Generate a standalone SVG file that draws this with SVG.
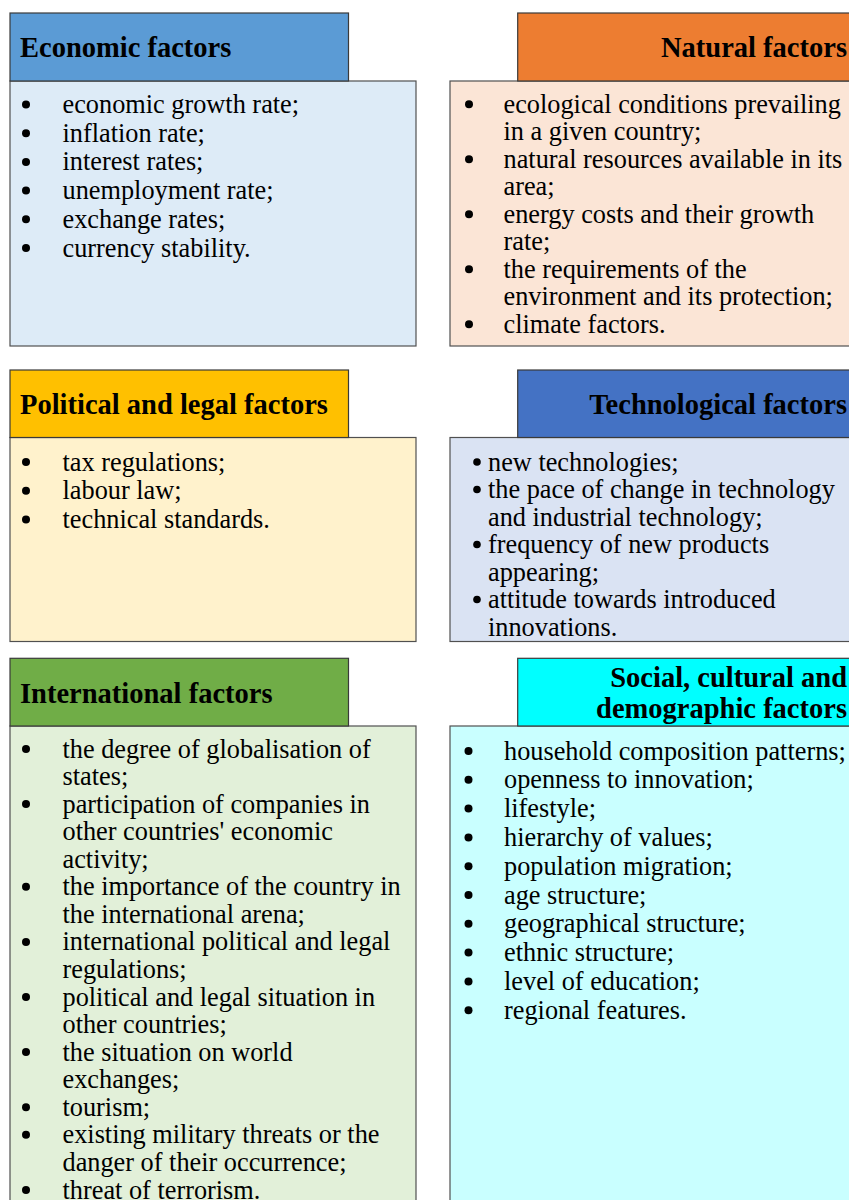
<svg xmlns="http://www.w3.org/2000/svg" width="849" height="1200" viewBox="0 0 849 1200">
<style>
.hd{stroke:#3a3a3a;stroke-width:1.2}
.bd{stroke:#505050;stroke-width:1.2}
.ht{font-family:"Liberation Serif","Times New Roman",serif;font-weight:bold;font-size:28.5px;fill:#000}
.bt{font-family:"Liberation Serif","Times New Roman",serif;font-size:26.3px;fill:#000}
.bu{fill:#000}
</style>
<rect width="849" height="1200" fill="#fff"/>

<g id="economic">
<rect class="bd" x="10" y="81" width="406" height="265" fill="#DDEBF7"/>
<rect class="hd" x="10" y="13" width="338.5" height="68" fill="#5B9BD5"/>
<text class="ht" x="20" y="56.5">Economic factors</text>
<g class="bu">
<circle cx="26" cy="104.5" r="4"/><circle cx="26" cy="133.2" r="4"/><circle cx="26" cy="161.9" r="4"/>
<circle cx="26" cy="190.6" r="4"/><circle cx="26" cy="219.3" r="4"/><circle cx="26" cy="248" r="4"/>
</g>
<text class="bt" x="62.5" y="113">economic growth rate;</text>
<text class="bt" x="62.5" y="141.7">inflation rate;</text>
<text class="bt" x="62.5" y="170.4">interest rates;</text>
<text class="bt" x="62.5" y="199.1">unemployment rate;</text>
<text class="bt" x="62.5" y="227.8">exchange rates;</text>
<text class="bt" x="62.5" y="256.5">currency stability.</text>
</g>

<g id="natural">
<rect class="bd" x="450" y="81" width="420" height="265" fill="#FBE5D6"/>
<rect class="hd" x="517.7" y="13" width="352" height="68" fill="#ED7D31"/>
<text class="ht" x="847" y="56.5" text-anchor="end">Natural factors</text>
<g class="bu">
<circle cx="469" cy="104.3" r="4"/><circle cx="469" cy="159.3" r="4"/><circle cx="469" cy="214.3" r="4"/>
<circle cx="469" cy="269.3" r="4"/><circle cx="469" cy="324.3" r="4"/>
</g>
<text class="bt" x="503.5" y="112.8">ecological conditions prevailing</text>
<text class="bt" x="503.5" y="140.3">in a given country;</text>
<text class="bt" x="503.5" y="167.8">natural resources available in its</text>
<text class="bt" x="503.5" y="195.3">area;</text>
<text class="bt" x="503.5" y="222.8">energy costs and their growth</text>
<text class="bt" x="503.5" y="250.3">rate;</text>
<text class="bt" x="503.5" y="277.8">the requirements of the</text>
<text class="bt" x="503.5" y="305.3">environment and its protection;</text>
<text class="bt" x="503.5" y="332.8">climate factors.</text>
</g>

<g id="political">
<rect class="bd" x="10" y="437.5" width="406" height="204" fill="#FFF2CC"/>
<rect class="hd" x="10" y="370" width="338.5" height="67.5" fill="#FFC000"/>
<text class="ht" x="20" y="413.5">Political and legal factors</text>
<g class="bu">
<circle cx="26" cy="462" r="4"/><circle cx="26" cy="490.7" r="4"/><circle cx="26" cy="519.4" r="4"/>
</g>
<text class="bt" x="62.5" y="470.5">tax regulations;</text>
<text class="bt" x="62.5" y="499.2">labour law;</text>
<text class="bt" x="62.5" y="527.9">technical standards.</text>
</g>

<g id="technological">
<rect class="bd" x="450" y="437.5" width="420" height="204" fill="#DAE3F3"/>
<rect class="hd" x="517.7" y="370" width="352" height="67.5" fill="#4472C4"/>
<text class="ht" x="847" y="413.5" text-anchor="end">Technological factors</text>
<g class="bu">
<circle cx="477" cy="462" r="3.8"/><circle cx="477" cy="489.5" r="3.8"/><circle cx="477" cy="544.5" r="3.8"/>
<circle cx="477" cy="599.5" r="3.8"/>
</g>
<text class="bt" x="488" y="470.5">new technologies;</text>
<text class="bt" x="488" y="498">the pace of change in technology</text>
<text class="bt" x="488" y="525.5">and industrial technology;</text>
<text class="bt" x="488" y="553">frequency of new products</text>
<text class="bt" x="488" y="580.5">appearing;</text>
<text class="bt" x="488" y="608">attitude towards introduced</text>
<text class="bt" x="488" y="635.5">innovations.</text>
</g>

<g id="international">
<rect class="bd" x="10" y="726" width="406" height="490" fill="#E2F0D9"/>
<rect class="hd" x="10" y="658.3" width="338.5" height="67.7" fill="#70AD47"/>
<text class="ht" x="20" y="702.5">International factors</text>
<g class="bu">
<circle cx="26" cy="749" r="4"/><circle cx="26" cy="804.1" r="4"/><circle cx="26" cy="886.8" r="4"/>
<circle cx="26" cy="941.9" r="4"/><circle cx="26" cy="997" r="4"/><circle cx="26" cy="1052.1" r="4"/>
<circle cx="26" cy="1107.3" r="4"/><circle cx="26" cy="1134.8" r="4"/><circle cx="26" cy="1190" r="4"/>
</g>
<text class="bt" x="62.5" y="757.5">the degree of globalisation of</text>
<text class="bt" x="62.5" y="785.1">states;</text>
<text class="bt" x="62.5" y="812.6">participation of companies in</text>
<text class="bt" x="62.5" y="840.2">other countries' economic</text>
<text class="bt" x="62.5" y="867.7">activity;</text>
<text class="bt" x="62.5" y="895.3">the importance of the country in</text>
<text class="bt" x="62.5" y="922.9">the international arena;</text>
<text class="bt" x="62.5" y="950.4">international political and legal</text>
<text class="bt" x="62.5" y="978">regulations;</text>
<text class="bt" x="62.5" y="1005.5">political and legal situation in</text>
<text class="bt" x="62.5" y="1033.1">other countries;</text>
<text class="bt" x="62.5" y="1060.6">the situation on world</text>
<text class="bt" x="62.5" y="1088.2">exchanges;</text>
<text class="bt" x="62.5" y="1115.8">tourism;</text>
<text class="bt" x="62.5" y="1143.3">existing military threats or the</text>
<text class="bt" x="62.5" y="1170.9">danger of their occurrence;</text>
<text class="bt" x="62.5" y="1198.5">threat of terrorism.</text>
</g>

<g id="social">
<rect class="bd" x="450" y="726" width="420" height="490" fill="#C9FFFF"/>
<rect class="hd" x="517.7" y="658.3" width="352" height="67.7" fill="#00FFFF"/>
<text class="ht" x="847" y="686.5" text-anchor="end">Social, cultural and</text>
<text class="ht" x="847" y="718" text-anchor="end">demographic factors</text>
<g class="bu">
<circle cx="468.5" cy="751" r="4"/><circle cx="468.5" cy="779.8" r="4"/><circle cx="468.5" cy="808.6" r="4"/>
<circle cx="468.5" cy="837.4" r="4"/><circle cx="468.5" cy="866.2" r="4"/><circle cx="468.5" cy="895" r="4"/>
<circle cx="468.5" cy="923.8" r="4"/><circle cx="468.5" cy="952.6" r="4"/><circle cx="468.5" cy="981.4" r="4"/>
<circle cx="468.5" cy="1010.2" r="4"/>
</g>
<text class="bt" x="504" y="759.5">household composition patterns;</text>
<text class="bt" x="504" y="788.3">openness to innovation;</text>
<text class="bt" x="504" y="817.1">lifestyle;</text>
<text class="bt" x="504" y="845.9">hierarchy of values;</text>
<text class="bt" x="504" y="874.7">population migration;</text>
<text class="bt" x="504" y="903.5">age structure;</text>
<text class="bt" x="504" y="932.3">geographical structure;</text>
<text class="bt" x="504" y="961.1">ethnic structure;</text>
<text class="bt" x="504" y="989.9">level of education;</text>
<text class="bt" x="504" y="1018.7">regional features.</text>
</g>

<g id="connectors"></g>
</svg>
